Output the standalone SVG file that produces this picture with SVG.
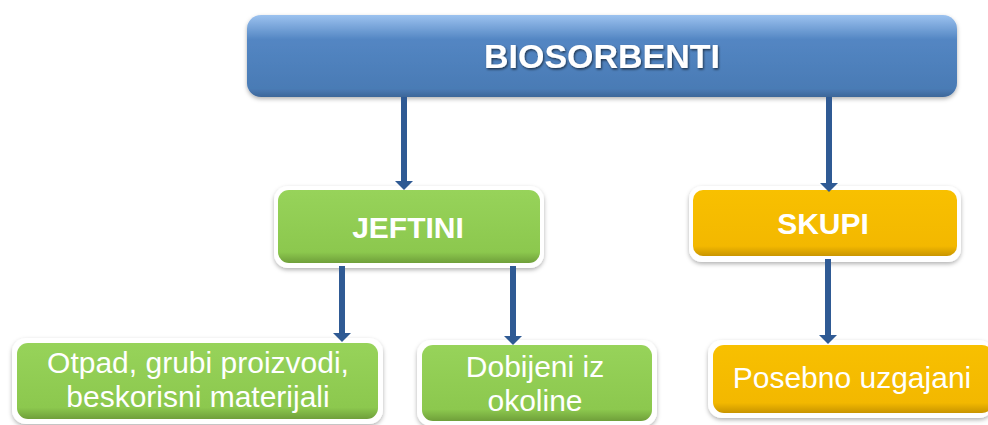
<svg xmlns="http://www.w3.org/2000/svg" width="988" height="425" viewBox="0 0 988 425">
<defs>
<linearGradient id="gBlue" x1="0" y1="0" x2="0" y2="1">
<stop offset="0" stop-color="#9cc2ef"/><stop offset="0.3" stop-color="#5386c3"/><stop offset="0.9" stop-color="#4a7bb5"/><stop offset="1" stop-color="#3d6699"/>
</linearGradient>
<linearGradient id="gGreen" x1="0" y1="0" x2="0" y2="1">
<stop offset="0" stop-color="#97d35a"/><stop offset="0.85" stop-color="#8cc84e"/><stop offset="1" stop-color="#6f9f3a"/>
</linearGradient>
<linearGradient id="gAmber" x1="0" y1="0" x2="0" y2="1">
<stop offset="0" stop-color="#f8c000"/><stop offset="0.85" stop-color="#f3b800"/><stop offset="1" stop-color="#c99500"/>
</linearGradient>
<filter id="sh" x="-5%" y="-10%" width="110%" height="130%">
<feDropShadow dx="0" dy="2" stdDeviation="2" flood-color="#000" flood-opacity="0.3"/>
</filter>
<filter id="tsh" x="-5%" y="-20%" width="110%" height="150%">
<feDropShadow dx="1" dy="1.5" stdDeviation="1" flood-color="#000" flood-opacity="0.6"/>
</filter>
<marker id="ah" viewBox="0 0 9 18" refX="0" refY="9" markerWidth="9" markerHeight="18" orient="auto" markerUnits="userSpaceOnUse">
<path d="M0,0 L9,9 L0,18 z" fill="#2f5a94"/>
</marker>
</defs>
<style>
.lbl{font-family:"Liberation Sans",Arial,sans-serif;fill:#fff;text-anchor:middle;font-size:30px}
.b{font-weight:bold}
.frame{fill:#fff;filter:url(#sh)}
.conn{stroke:#2f5a94;stroke-width:6;fill:none;marker-end:url(#ah)}
</style>
<rect width="988" height="425" fill="#fff"/>
<g id="biosorbenti">
<rect x="247" y="15" width="710" height="82" rx="14" fill="url(#gBlue)" filter="url(#sh)"/>
<text class="lbl b" x="602" y="68" style="font-size:34px" filter="url(#tsh)">BIOSORBENTI</text>
</g>
<g id="jeftini">
<rect class="frame" x="274" y="186" width="270" height="82" rx="14"/>
<rect x="278" y="190" width="262" height="73" rx="11" fill="url(#gGreen)"/>
<text class="lbl b" x="408" y="238">JEFTINI</text>
</g>
<g id="skupi">
<rect class="frame" x="689" y="186" width="272" height="76" rx="13"/>
<rect x="693" y="190" width="264" height="66" rx="10" fill="url(#gAmber)"/>
<text class="lbl b" x="823" y="234">SKUPI</text>
</g>
<g id="otpad">
<rect class="frame" x="12" y="338" width="371" height="86" rx="14"/>
<rect x="17" y="343" width="361" height="76" rx="11" fill="url(#gGreen)"/>
<text class="lbl" x="198" y="373">Otpad, grubi proizvodi,</text>
<text class="lbl" x="198" y="407">beskorisni materijali</text>
</g>
<g id="dobijeni">
<rect class="frame" x="417" y="340" width="240" height="86" rx="14"/>
<rect x="422" y="345" width="230" height="76" rx="11" fill="url(#gGreen)"/>
<text class="lbl" x="535" y="377">Dobijeni iz</text>
<text class="lbl" x="535" y="411">okoline</text>
</g>
<g id="posebno">
<rect class="frame" x="708" y="340" width="285" height="78" rx="14"/>
<rect x="713" y="345" width="280" height="68" rx="11" fill="url(#gAmber)"/>
<text class="lbl" x="852" y="388">Posebno uzgajani</text>
</g>
<g id="connectors">
<line class="conn" x1="404" y1="97" x2="404" y2="181"/>
<line class="conn" x1="829" y1="97" x2="829" y2="183"/>
<line class="conn" x1="342" y1="266" x2="342" y2="333"/>
<line class="conn" x1="513" y1="266" x2="513" y2="336"/>
<line class="conn" x1="828" y1="259" x2="828" y2="335"/>
</g>
</svg>
